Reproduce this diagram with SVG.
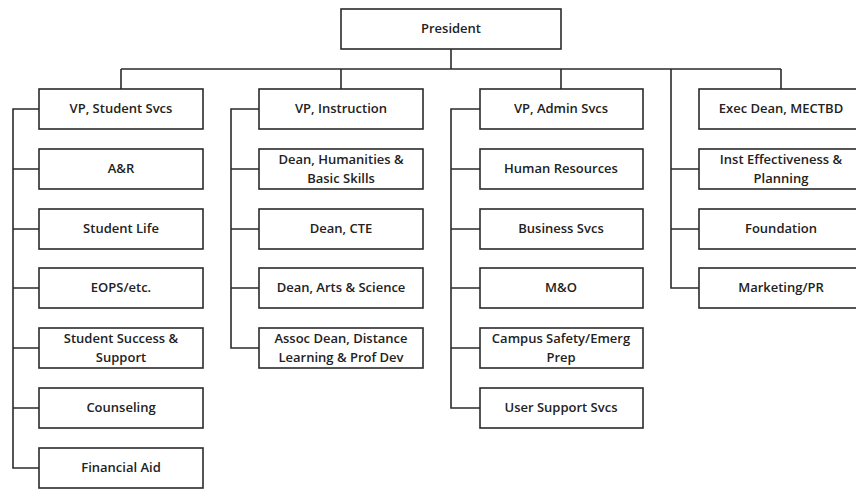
<svg xmlns="http://www.w3.org/2000/svg" width="856" height="489" viewBox="0 0 856 489">
<style>
rect.b{fill:#fff;stroke:#2b2b2b;stroke-width:1.6}
.c path{fill:none;stroke:#2b2b2b;stroke-width:1.6}
text{font-family:"Open Sans",Lato,"Liberation Sans",sans-serif;font-size:13px;font-weight:600;fill:#222;text-anchor:middle}
</style>
<rect width="856" height="489" fill="#fff"/>
<g class="c" id="connectors">
<path d="M451 49V69M121 69H781M121 69V89M341 69V89M561 69V89M781 69V89"/>
<path d="M39 109H13V468H39M13 169H39M13 229H39M13 288H39M13 348H39M13 408H39"/>
<path d="M259 109H231V348H259M231 169H259M231 229H259M231 288H259"/>
<path d="M480 109H451V408H480M451 169H480M451 229H480M451 288H480M451 348H480"/>
<path d="M671 69V288H699M671 169H699M671 229H699"/>
</g>
<g id="president"><rect class="b" x="341" y="9" width="220" height="40"/><text x="451" y="33">President</text></g>
<g id="vp-student"><rect class="b" x="39" y="89" width="164" height="40"/><text x="121" y="113">VP, Student Svcs</text></g>
<g id="ar"><rect class="b" x="39" y="149" width="164" height="40"/><text x="121" y="173">A&amp;R</text></g>
<g id="student-life"><rect class="b" x="39" y="209" width="164" height="40"/><text x="121" y="233">Student Life</text></g>
<g id="eops"><rect class="b" x="39" y="268" width="164" height="40"/><text x="121" y="292">EOPS/etc.</text></g>
<g id="student-success"><rect class="b" x="39" y="328" width="164" height="40"/><text x="121" y="343">Student Success &amp;</text><text x="121" y="362">Support</text></g>
<g id="counseling"><rect class="b" x="39" y="388" width="164" height="40"/><text x="121" y="412">Counseling</text></g>
<g id="financial-aid"><rect class="b" x="39" y="448" width="164" height="40"/><text x="121" y="472">Financial Aid</text></g>
<g id="vp-instruction"><rect class="b" x="259" y="89" width="164" height="40"/><text x="341" y="113">VP, Instruction</text></g>
<g id="dean-humanities"><rect class="b" x="259" y="149" width="164" height="40"/><text x="341" y="164">Dean, Humanities &amp;</text><text x="341" y="183">Basic Skills</text></g>
<g id="dean-cte"><rect class="b" x="259" y="209" width="164" height="40"/><text x="341" y="233">Dean, CTE</text></g>
<g id="dean-arts"><rect class="b" x="259" y="268" width="164" height="40"/><text x="341" y="292">Dean, Arts &amp; Science</text></g>
<g id="assoc-dean"><rect class="b" x="259" y="328" width="164" height="40"/><text x="341" y="343">Assoc Dean, Distance</text><text x="341" y="362">Learning &amp; Prof Dev</text></g>
<g id="vp-admin"><rect class="b" x="480" y="89" width="163" height="40"/><text x="561" y="113">VP, Admin Svcs</text></g>
<g id="hr"><rect class="b" x="480" y="149" width="163" height="40"/><text x="561" y="173">Human Resources</text></g>
<g id="business"><rect class="b" x="480" y="209" width="163" height="40"/><text x="561" y="233">Business Svcs</text></g>
<g id="mo"><rect class="b" x="480" y="268" width="163" height="40"/><text x="561" y="292">M&amp;O</text></g>
<g id="campus-safety"><rect class="b" x="480" y="328" width="163" height="40"/><text x="561" y="343">Campus Safety/Emerg</text><text x="561" y="362">Prep</text></g>
<g id="user-support"><rect class="b" x="480" y="388" width="163" height="40"/><text x="561" y="412">User Support Svcs</text></g>
<g id="exec-dean"><rect class="b" x="699" y="89" width="164" height="40"/><text x="781" y="113">Exec Dean, MECTBD</text></g>
<g id="inst-effectiveness"><rect class="b" x="699" y="149" width="164" height="40"/><text x="781" y="164">Inst Effectiveness &amp;</text><text x="781" y="183">Planning</text></g>
<g id="foundation"><rect class="b" x="699" y="209" width="164" height="40"/><text x="781" y="233">Foundation</text></g>
<g id="marketing"><rect class="b" x="699" y="268" width="164" height="40"/><text x="781" y="292">Marketing/PR</text></g>
</svg>
